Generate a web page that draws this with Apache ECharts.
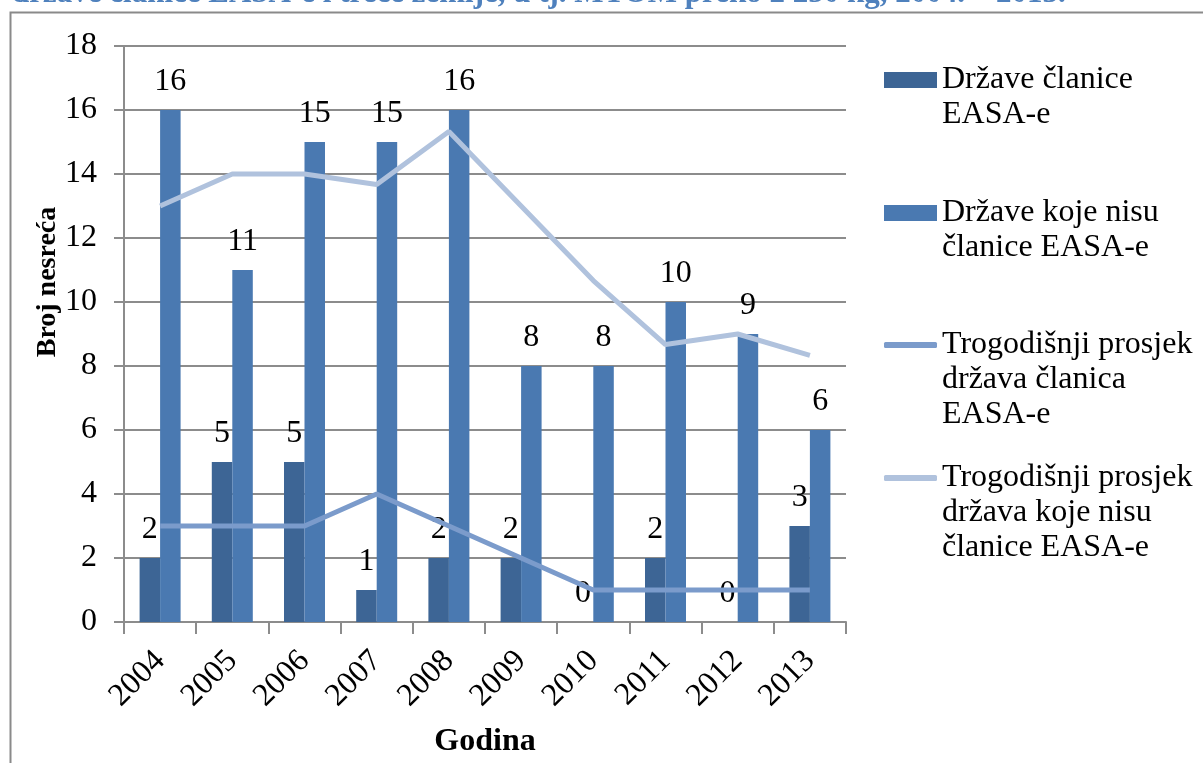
<!DOCTYPE html>
<html>
<head>
<meta charset="utf-8">
<script src="https://cdn.jsdelivr.net/npm/echarts@6/dist/echarts.min.js"></script>
<style>
  html, body { margin: 0; padding: 0; background: #fff; }
  #chart { width: 1203px; height: 763px; }
</style>
</head>
<body>
<div id="chart"></div>
<script>
// podaci ocitani sa slike
const years = ['2004', '2005', '2006', '2007', '2008', '2009', '2010', '2011', '2012', '2013'];
const memberCounts = [2, 5, 5, 1, 2, 2, 0, 2, 0, 3];
const nonMemberCounts = [16, 11, 15, 15, 16, 8, 8, 10, 9, 6];
const memberAvg = [3, 3, 3, 4, 3, 2, 1, 1, 1, 1];
const nonMemberAvg = [13, 14, 14, 13.67, 15.33, 13, 10.67, 8.67, 9, 8.33];
const yMin = 0, yMax = 18, yStep = 2;

const names = [
  'Države članice\nEASA-e',
  'Države koje nisu\nčlanice EASA-e',
  'Trogodišnji prosjek\ndržava članica\nEASA-e',
  'Trogodišnji prosjek\ndržava koje nisu\nčlanice EASA-e'
];

const serif = '"Liberation Serif", "DejaVu Serif", serif';
const fs = 32;
const lh = 35;
const gray = '#8c8c8c';

// jedna legenda po stavci; prazni redovi ispred teksta da prvi red bude uz ikonu
function legendFor(name, firstLineY, isLine) {
  const n = name.split('\n').length;
  const ih = isLine ? 6 : 16;
  return {
    left: 884,
    top: firstLineY - (2 * n - 1) * lh / 2,
    padding: 0,
    itemWidth: 53,
    itemHeight: ih,
    icon: isLine ? 'roundRect' : 'rect',
    selectedMode: false,
    data: [name],
    formatter: function (nm) { return '\n'.repeat(n - 1) + nm; },
    textStyle: {fontFamily: serif, fontSize: fs, lineHeight: lh, color: '#000'}
  };
}

const labelStyle = {
  show: true,
  position: 'top',
  distance: 12,
  fontFamily: serif,
  fontSize: fs,
  color: '#000'
};

const chart = echarts.init(document.getElementById('chart'));
chart.setOption({
  animation: false,
  backgroundColor: '#fff',
  graphic: [
    {
      type: 'rect',
      shape: {x: 10.5, y: 12.5, width: 1400, height: 900},
      style: {fill: 'none', stroke: '#8a8a8a', lineWidth: 2},
      silent: true
    },
    {
      type: 'text',
      style: {
        x: 12, y: 9,
        text: 'države članice EASA-e i treće zemlje, u tj. MTOM preko 2 250 kg, 2004. – 2013.',
        font: 'bold 31px "Liberation Serif", serif',
        fill: '#4f81bd',
        verticalAlign: 'bottom'
      },
      silent: true
    },
    {
      // naziv osi y
      type: 'text',
      x: 48,
      y: 282,
      rotation: Math.PI / 2,
      style: {
        text: 'Broj nesreća',
        font: 'bold 28px "Liberation Serif", serif',
        fill: '#000',
        align: 'center',
        verticalAlign: 'middle'
      },
      silent: true
    }
  ],
  legend: [
    legendFor(names[0], 80, false),
    legendFor(names[1], 213, false),
    legendFor(names[2], 345, true),
    legendFor(names[3], 478, true)
  ],
  grid: {left: 124, right: 357, top: 46, bottom: 141},
  xAxis: {
    type: 'category',
    data: years,
    name: 'Godina',
    nameLocation: 'middle',
    nameGap: 104,
    nameTextStyle: {fontFamily: serif, fontSize: fs, fontWeight: 'bold', color: '#000'},
    axisLine: {lineStyle: {color: gray, width: 2}},
    axisTick: {show: true, length: 12, lineStyle: {color: gray, width: 2}},
    axisLabel: {rotate: 45, margin: 34, fontFamily: serif, fontSize: fs, color: '#000'}
  },
  yAxis: {
    type: 'value',
    min: yMin,
    max: yMax,
    interval: yStep,
    axisLine: {show: true, lineStyle: {color: gray, width: 2}},
    axisTick: {show: true, length: 10, lineStyle: {color: gray, width: 2}},
    axisLabel: {margin: 27, fontFamily: serif, fontSize: fs, color: '#000'},
    splitLine: {lineStyle: {color: gray, width: 2}}
  },
  series: [
    {
      name: names[0],
      type: 'bar',
      data: memberCounts,
      barWidth: 20.5,
      barGap: '0%',
      itemStyle: {color: '#3d6595'},
      label: labelStyle
    },
    {
      name: names[1],
      type: 'bar',
      data: nonMemberCounts,
      barWidth: 20.5,
      itemStyle: {color: '#4a79b1'},
      label: labelStyle
    },
    {
      name: names[2],
      type: 'line',
      data: memberAvg,
      symbol: 'none',
      z: 5,
      lineStyle: {color: '#7b9bcb', width: 5},
      itemStyle: {color: '#7b9bcb'}
    },
    {
      name: names[3],
      type: 'line',
      data: nonMemberAvg,
      symbol: 'none',
      z: 5,
      lineStyle: {color: '#b0c2dd', width: 5},
      itemStyle: {color: '#b0c2dd'}
    }
  ]
});
</script>
</body>
</html>
